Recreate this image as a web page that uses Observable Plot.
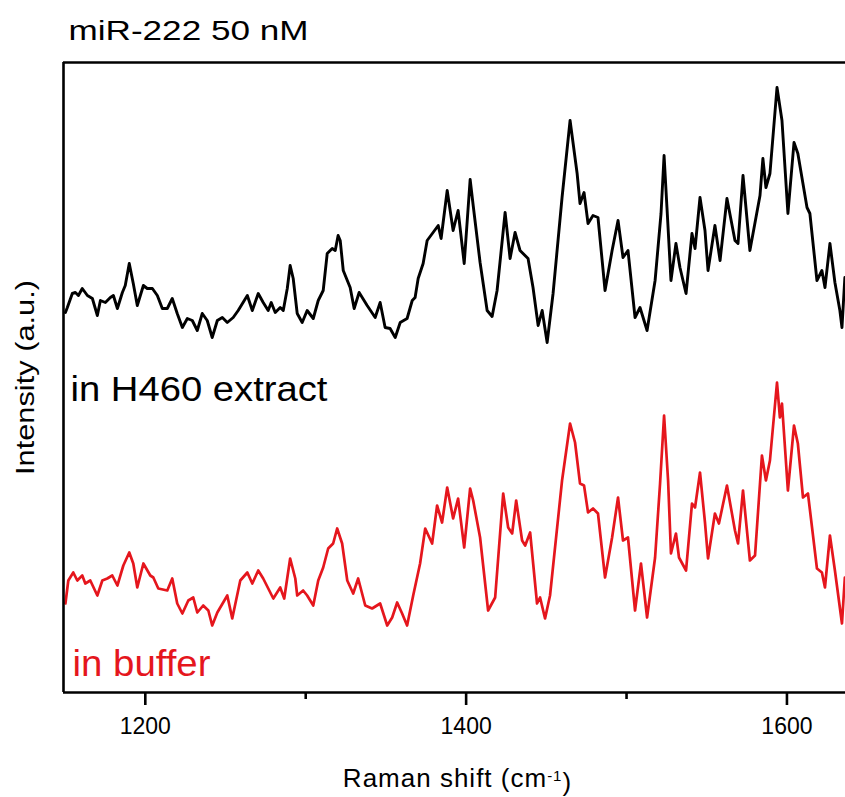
<!DOCTYPE html>
<html>
<head>
<meta charset="utf-8">
<script src="https://cdn.jsdelivr.net/npm/d3@7"></script>
<script src="https://cdn.jsdelivr.net/npm/@observablehq/plot@0.6"></script>
<style>
  html, body { margin: 0; padding: 0; background: #fff; }
  #chart svg { display: block; font-family: "Liberation Sans", Arial, sans-serif; }
</style>
</head>
<body>
<div id="chart"></div>
<script>
// ---- Data ----
const wavenumbersH460 = [1150.2,1151.4,1154.5,1156.4,1158.3,1160.7,1163.9,1167.0,1170.1,1172.0,1175.1,1178.2,1180.1,1182.6,1185.7,1187.5,1190.0,1192.5,1195.0,1198.8,1201.2,1204.4,1207.5,1210.6,1213.7,1216.8,1219.9,1223.1,1226.2,1229.3,1232.4,1235.5,1238.6,1241.7,1244.9,1248.0,1251.1,1254.8,1257.9,1263.6,1266.7,1270.4,1273.5,1276.6,1278.5,1281.0,1284.1,1286.0,1288.5,1290.3,1292.2,1294.7,1297.8,1300.9,1304.7,1307.8,1310.9,1313.4,1316.5,1318.4,1320.2,1321.5,1323.4,1327.7,1330.2,1333.3,1338.3,1343.3,1346.4,1349.5,1352.6,1355.8,1358.9,1363.2,1366.4,1368.2,1370.1,1373.2,1375.7,1379.4,1382.6,1384.4,1388.2,1391.9,1395.0,1398.8,1402.5,1404.4,1408.7,1413.1,1416.2,1419.3,1424.3,1427.4,1430.5,1433.6,1438.6,1441.7,1444.9,1447.4,1450.5,1454.2,1459.8,1464.8,1469.2,1471.0,1473.5,1476.0,1479.1,1482.2,1486.6,1491.0,1494.7,1497.8,1500.9,1505.3,1508.4,1512.8,1517.8,1521.5,1523.4,1525.2,1527.7,1530.8,1533.3,1537.1,1540.8,1542.7,1545.8,1548.9,1550.8,1555.1,1558.3,1562.6,1567.6,1569.5,1572.6,1576.9,1583.2,1585.0,1586.9,1589.4,1593.8,1596.9,1600.6,1604.4,1606.8,1612.5,1614.3,1618.7,1621.8,1623.7,1626.8,1629.9,1633.0,1634.3,1636.1];
const intensityH460 = [380,385,399,400,397,404,397,394,377,392,390,395,397,384,400,407,429,409,387,407,404,404,397,384,384,394,379,365,374,372,362,379,372,355,372,375,370,375,382,397,382,399,390,382,390,380,385,382,404,427,414,379,370,382,374,392,402,439,444,442,457,452,422,405,384,400,387,375,390,365,364,355,370,374,392,395,414,429,452,460,467,454,502,462,482,429,513,487,430,382,376,402,480,434,460,442,434,405,367,382,350,399,495,572,519,489,500,469,477,475,402,442,472,435,442,375,385,362,412,479,537,485,412,449,425,399,459,444,495,462,422,467,432,494,452,449,517,442,497,534,505,519,605,572,479,550,539,485,479,412,422,405,449,410,382,365,415];

const wavenumbersBuffer = [1150.2,1152.0,1155.1,1157.6,1160.7,1162.6,1165.7,1170.1,1173.2,1176.3,1179.4,1182.6,1186.3,1190.0,1192.5,1195.0,1198.8,1203.1,1205.0,1208.1,1213.7,1216.8,1219.9,1223.1,1226.8,1229.9,1232.4,1236.1,1239.3,1241.7,1244.9,1251.1,1254.2,1259.2,1263.6,1266.7,1270.4,1273.5,1279.8,1284.1,1286.6,1290.3,1293.5,1294.7,1298.4,1300.9,1304.7,1307.8,1310.9,1314.0,1317.1,1319.6,1322.7,1325.9,1329.6,1332.7,1337.1,1341.4,1346.4,1350.8,1353.9,1357.0,1360.1,1363.2,1367.0,1371.3,1374.5,1378.8,1381.9,1385.0,1388.2,1391.9,1395.0,1398.8,1402.5,1404.4,1408.7,1413.7,1418.1,1423.1,1426.2,1428.7,1431.2,1434.9,1436.8,1439.9,1444.2,1446.1,1449.2,1452.3,1459.8,1464.8,1467.9,1471.0,1473.5,1476.0,1479.1,1482.2,1486.6,1491.0,1494.7,1497.8,1500.9,1505.3,1509.0,1512.8,1517.8,1520.9,1523.4,1525.9,1527.7,1530.8,1532.7,1537.1,1540.8,1542.7,1545.8,1548.9,1550.8,1555.1,1557.6,1562.6,1567.6,1569.5,1572.6,1576.9,1580.1,1584.4,1586.9,1589.4,1593.8,1595.6,1596.9,1600.6,1604.4,1606.8,1610.0,1613.1,1618.7,1621.8,1623.7,1626.8,1629.9,1634.3,1636.1];
const intensityBuffer = [89,112,120,112,117,109,112,97,112,114,117,107,127,140,129,105,129,117,115,104,102,114,89,79,92,95,80,87,82,67,80,97,74,112,120,109,122,114,94,105,94,134,114,97,102,97,87,112,125,144,149,164,149,112,99,114,87,84,89,67,75,90,79,67,97,129,164,149,187,170,205,174,194,145,204,192,155,82,95,199,165,159,192,152,147,160,89,95,74,97,212,269,250,209,207,180,184,179,115,155,195,152,155,82,129,75,135,209,277,212,139,159,135,122,189,185,220,170,134,179,169,207,162,149,202,132,137,237,212,232,310,275,289,202,267,249,195,199,124,120,105,157,122,69,115];

const xDomain = [1149, 1636.5];
const yDomain = [0, 630];
const xTicks = [1200, 1400, 1600];
const xMinorTicks = [1300, 1500];

const titleText = "miR-222 50 nM";
const xLabel = "Raman shift (cm-1)";
const yLabel = "Intensity (a.u.)";
const seriesLabels = ["in H460 extract", "in buffer"];
const seriesColors = ["#000000", "#e5161d"];

// ---- Build tables ----
const h460 = wavenumbersH460.map((w, i) => ({w, v: intensityH460[i]}));
const buffer = wavenumbersBuffer.map((w, i) => ({w, v: intensityBuffer[i]}));

const font = '"Liberation Sans", Arial, sans-serif';

const chart = Plot.plot({
  width: 845,
  height: 797,
  marginTop: 62,
  marginBottom: 105,
  marginLeft: 63,
  marginRight: 0,
  style: {fontFamily: font, background: "#fff", overflow: "visible"},
  x: {domain: xDomain, label: null},
  y: {domain: yDomain, axis: null, label: null},
  marks: [
    Plot.line(h460, {x: "w", y: "v", stroke: seriesColors[0], strokeWidth: 2.9, strokeLinejoin: "round"}),
    Plot.line(buffer, {x: "w", y: "v", stroke: seriesColors[1], strokeWidth: 2.7, strokeLinejoin: "round"}),
    Plot.ruleY(yDomain, {stroke: "#000", strokeWidth: 2.6}),
    Plot.ruleX([xDomain[0]], {stroke: "#000", strokeWidth: 2.6}),
    Plot.axisX(xTicks, {tickSize: 13, tickPadding: 12, strokeWidth: 2.6, fontSize: 23, fill: "#000", label: null, tickFormat: d => String(d)}),
    Plot.axisX(xMinorTicks, {tickSize: 7, strokeWidth: 2.6, tickFormat: () => "", label: null}),
    Plot.text([titleText], {frameAnchor: "top-left", dx: 5, dy: -31, textAnchor: "start", lineAnchor: "middle", fontSize: 27, fill: "#000"}),
    Plot.text([seriesLabels[0]], {frameAnchor: "top-left", dx: 7, dy: 327, textAnchor: "start", lineAnchor: "middle", fontSize: 35, fill: seriesColors[0]}),
    Plot.text([seriesLabels[1]], {frameAnchor: "bottom-left", dx: 9, dy: -28.5, textAnchor: "start", lineAnchor: "middle", fontSize: 36, fill: seriesColors[1]}),
    Plot.text([xLabel], {frameAnchor: "bottom", dx: 3, dy: 86, textAnchor: "middle", lineAnchor: "middle", fontSize: 26, fill: "#000"}),
    Plot.text([yLabel], {frameAnchor: "left", dx: -38, rotate: -90, textAnchor: "middle", lineAnchor: "middle", fontSize: 25, fill: "#000"})
  ]
});

// Stretch texts to the widths seen in the reference, and set the superscript
const widths = new Map([
  [titleText, 240],
  [seriesLabels[0], 257],
  [seriesLabels[1], 138],
  [yLabel, 195]
]);
d3.select(chart).selectAll("text").each(function() {
  const t = this.textContent;
  if (t === xLabel) {
    const el = d3.select(this);
    el.text(null).attr("letter-spacing", "1px");
    el.append("tspan").text("Raman shift (cm");
    el.append("tspan").attr("dy", "-0.42em").attr("font-size", "15px").text("-1");
    el.append("tspan").attr("dy", "0.42em").text(")");
  }
  if (widths.has(t)) {
    this.setAttribute("textLength", widths.get(t));
    this.setAttribute("lengthAdjust", "spacingAndGlyphs");
  }
});

document.getElementById("chart").appendChild(chart);
</script>
</body>
</html>
